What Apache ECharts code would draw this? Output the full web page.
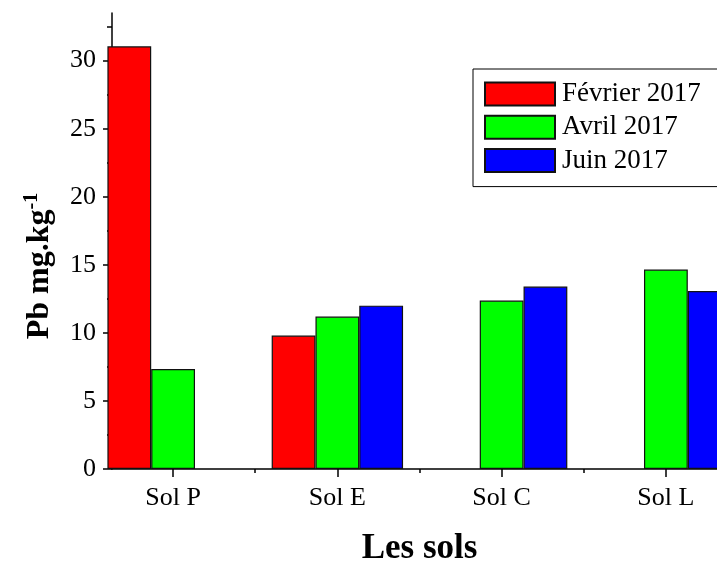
<!DOCTYPE html>
<html>
<head>
<meta charset="utf-8">
<script src="https://cdn.jsdelivr.net/npm/echarts@6/dist/echarts.min.js"></script>
<style>
  html, body { margin: 0; padding: 0; background: #fff; }
  #chart { width: 717px; height: 561px; }
</style>
</head>
<body>
<div id="chart"></div>
<script>
// Lead (Pb) content per soil, three sampling campaigns
const categories = ['Sol P', 'Sol E', 'Sol C', 'Sol L'];
const seriesNames = ['Février 2017', 'Avril 2017', 'Juin 2017'];
const fevrier = [31.05, 9.8, null, null];
const avril = [7.35, 11.2, 12.37, 14.65];
const juin = [null, 12.0, 13.4, 13.07];
const yTicks = [0, 5, 10, 15, 20, 25, 30];
const yMinorTicks = [2.5, 7.5, 12.5, 17.5, 22.5, 27.5, 32.5];

const colors = ['#ff0000', '#00ff00', '#0000ff'];
const serif = '"Liberation Serif", "Times New Roman", serif';

// categories sit at x = 1..n on a value axis, so the axis can start part-way into the first group
const catPos = categories.map((c, i) => i + 1);
const toPairs = vals => vals.map((v, i) => [catPos[i], v === null ? null : v]);
const minorPos = catPos.slice(0, -1).map(p => p + 0.5);

const xMin = 0.628, xMax = 4.372;
const yMax = 33.5;
const black = { color: '#000', width: 1.5 };

const chart = echarts.init(document.getElementById('chart'));
chart.setOption({
  animation: false,
  backgroundColor: '#fff',
  textStyle: { fontFamily: serif },
  grid: { left: 112, top: 13, right: -10, bottom: 92, containLabel: false, outerBoundsMode: 'none' },
  legend: {
    orient: 'vertical',
    left: 473, top: 69,
    padding: [11.5, 40, 12.5, 11],
    borderColor: '#000', borderWidth: 1,
    itemWidth: 70, itemHeight: 23, itemGap: 6.3,
    icon: 'rect',
    textStyle: { fontFamily: serif, fontSize: 27, color: '#000', padding: [0, 0, 0, 2] },
    data: seriesNames
  },
  xAxis: [{
    type: 'value', min: xMin, max: xMax,
    name: 'Les sols', nameLocation: 'middle', nameGap: 62,
    nameTextStyle: { fontFamily: serif, fontSize: 35, fontWeight: 'bold', color: '#000' },
    axisLine: { show: true, onZero: false, lineStyle: black },
    axisTick: { show: true, length: 8, customValues: catPos, lineStyle: black },
    axisLabel: {
      customValues: catPos, margin: 16, fontSize: 26, color: '#000', fontFamily: serif,
      formatter: v => categories[Math.round(v) - 1] || ''
    },
    splitLine: { show: false }
  }, {
    type: 'value', min: xMin, max: xMax, position: 'bottom',
    axisLine: { show: false },
    axisTick: { show: true, length: 4, customValues: minorPos, lineStyle: black },
    axisLabel: { show: false, customValues: minorPos },
    splitLine: { show: false }
  }],
  yAxis: [{
    type: 'value', min: 0, max: yMax,
    name: '{main|Pb mg.kg}{sup|-1}', nameLocation: 'middle', nameGap: 56,
    nameTextStyle: {
      color: '#000', padding: [0, 50, 0, 0],
      rich: {
        main: { fontFamily: serif, fontSize: 32, fontWeight: 'bold', color: '#000', verticalAlign: 'bottom' },
        sup: { fontFamily: serif, fontSize: 20, fontWeight: 'bold', color: '#000', verticalAlign: 'top', padding: [0, 0, 14, 0] }
      }
    },
    axisLine: { show: true, lineStyle: black },
    axisTick: { show: true, length: 9, customValues: yTicks, lineStyle: black },
    axisLabel: { customValues: yTicks, margin: 16, fontSize: 26, color: '#000', fontFamily: serif },
    splitLine: { show: false }
  }, {
    type: 'value', min: 0, max: yMax, position: 'left',
    axisLine: { show: false },
    axisTick: { show: true, length: 5, customValues: yMinorTicks, lineStyle: black },
    axisLabel: { show: false, customValues: yMinorTicks },
    splitLine: { show: false }
  }],
  series: [fevrier, avril, juin].map((vals, i) => ({
    name: seriesNames[i],
    type: 'bar',
    xAxisIndex: 0,
    yAxisIndex: 0,
    data: toPairs(vals),
    barWidth: 43.8,
    barGap: '0%',
    clip: true,
    itemStyle: { color: colors[i], borderColor: '#111', borderWidth: 1.2 }
  }))
});
</script>
</body>
</html>
